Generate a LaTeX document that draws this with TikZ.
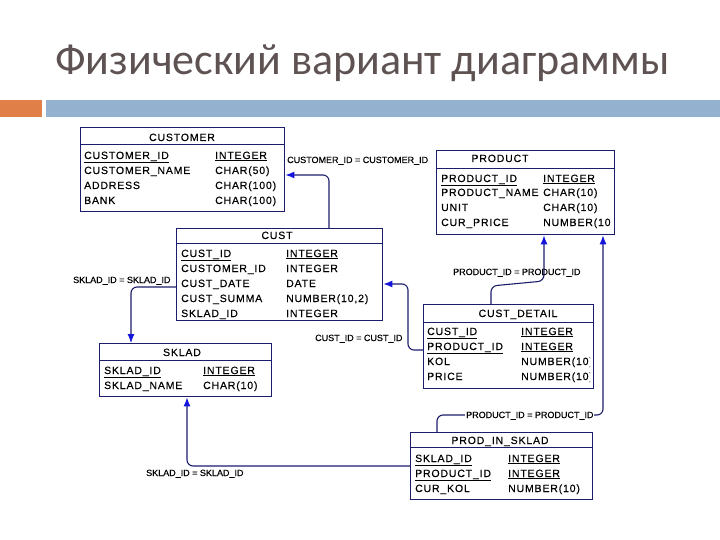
\documentclass[tikz,border=0pt]{standalone}
\usepackage{fontspec}
\setmainfont{Liberation Sans}
\newfontfamily\titlefont{Carlito}
\newfontfamily\tblfont[LetterSpace=8,FakeBold=0.3]{Liberation Sans}
\newfontfamily\lblfont[FakeBold=0.3]{Liberation Sans}
\usetikzlibrary{arrows.meta}
\definecolor{navy}{RGB}{28,28,110}
\definecolor{arrowblue}{RGB}{20,20,220}
\definecolor{titlec}{RGB}{94,82,82}
\definecolor{orangebar}{RGB}{224,127,72}
\definecolor{bluebar}{RGB}{148,178,208}
\tikzset{
  tbl/.style={draw=navy, line width=1.4pt, fill=white, inner sep=0pt, anchor=north west},
  sepline/.style={draw=navy, line width=0.8pt},
  hdr/.style={font=\tblfont\fontsize{10.5}{12}\selectfont, inner sep=0pt, anchor=base},
  cell/.style={font=\tblfont\fontsize{10.5}{12}\selectfont, inner sep=0pt, anchor=base west},
  lbl/.style={font=\lblfont\fontsize{9}{10}\selectfont, inner sep=0pt, anchor=base west},
  fk/.style={draw=navy, line width=1.1pt, rounded corners=6pt, -{Latex[length=9pt,width=7pt,color=arrowblue]}}
}
\newcommand\trow[6]{%
  \node[cell] (#1a) at (#2,#4) {#5};
  \node[cell] (#1b) at (#3,#4) {#6};}
\begin{document}
\begin{tikzpicture}[x=1pt,y=-1pt]
\useasboundingbox (0,0) rectangle (720,540);
\fill[white] (0,0) rectangle (720,540);
\node[font=\titlefont\fontsize{44}{50}\selectfont, text=titlec, anchor=base west, inner sep=0pt] (title) at (55,75) {Физический вариант диаграммы};
\fill[orangebar] (0,100) rectangle (42,117);
\fill[bluebar] (46,100) rectangle (720,117);

% CUSTOMER
\node[tbl, minimum width=204pt, minimum height=84pt] (customer) at (80,127) {};
\draw[sepline] (customer.west |- 0,144) -- (customer.east |- 0,144);
\node[hdr] (customerh) at (182,141) {CUSTOMER};
\trow{cu1}{84}{215}{159}{\underline{CUSTOMER\_ID}}{\underline{INTEGER}}
\trow{cu2}{84}{215}{174}{CUSTOMER\_NAME}{CHAR(50)}
\trow{cu3}{84}{215}{189}{ADDRESS}{CHAR(100)}
\trow{cu4}{84}{215}{204}{BANK}{CHAR(100)}

% PRODUCT
\node[tbl, minimum width=178pt, minimum height=84pt] (product) at (436,150) {};
\draw[sepline] (product.west |- 0,168) -- (product.east |- 0,168);
\node[hdr] (producth) at (500,162) {PRODUCT};
\begin{scope}
\clip (436,150) rectangle (611,234);
\trow{pr1}{441}{543}{182}{\underline{PRODUCT\_ID}}{\underline{INTEGER}}
\trow{pr2}{441}{543}{196}{PRODUCT\_NAME}{CHAR(10)}
\trow{pr3}{441}{543}{211}{UNIT}{CHAR(10)}
\trow{pr4}{441}{543}{226}{CUR\_PRICE}{NUMBER(10)}
\end{scope}

% CUST
\node[tbl, minimum width=206pt, minimum height=92pt] (cust) at (176,228) {};
\draw[sepline] (cust.west |- 0,243) -- (cust.east |- 0,243);
\node[hdr] (custh) at (277,239) {CUST};
\trow{cs1}{181}{286}{257}{\underline{CUST\_ID}}{\underline{INTEGER}}
\trow{cs2}{181}{286}{272}{CUSTOMER\_ID}{INTEGER}
\trow{cs3}{181}{286}{287}{CUST\_DATE}{DATE}
\trow{cs4}{181}{286}{302}{CUST\_SUMMA}{NUMBER(10,2)}
\trow{cs5}{181}{286}{317}{SKLAD\_ID}{INTEGER}

% CUST_DETAIL
\node[tbl, minimum width=170pt, minimum height=84pt] (cd) at (423,304) {};
\draw[sepline] (cd.west |- 0,322) -- (cd.east |- 0,322);
\node[hdr] (cdh) at (518,317) {CUST\_DETAIL};
\begin{scope}
\clip (423,304) rectangle (590,388);
\trow{cd1}{427}{521}{335}{\underline{CUST\_ID}}{\underline{INTEGER}}
\trow{cd2}{427}{521}{350}{\underline{PRODUCT\_ID}}{\underline{INTEGER}}
\trow{cd3}{427}{521}{365}{KOL}{NUMBER(10)}
\trow{cd4}{427}{521}{380}{PRICE}{NUMBER(10)}
\end{scope}

% SKLAD
\node[tbl, minimum width=172pt, minimum height=53pt] (sklad) at (99,343) {};
\draw[sepline] (sklad.west |- 0,360) -- (sklad.east |- 0,360);
\node[hdr] (skladh) at (182,356) {SKLAD};
\trow{sk1}{104}{203}{374}{\underline{SKLAD\_ID}}{\underline{INTEGER}}
\trow{sk2}{104}{203}{389}{SKLAD\_NAME}{CHAR(10)}

% PROD_IN_SKLAD
\node[tbl, minimum width=182pt, minimum height=67pt] (pis) at (410,432) {};
\draw[sepline] (pis.west |- 0,447) -- (pis.east |- 0,447);
\node[hdr] (pish) at (500,444) {PROD\_IN\_SKLAD};
\trow{ps1}{415}{508}{462}{\underline{SKLAD\_ID}}{\underline{INTEGER}}
\trow{ps2}{415}{508}{477}{\underline{PRODUCT\_ID}}{\underline{INTEGER}}
\trow{ps3}{415}{508}{492}{CUR\_KOL}{NUMBER(10)}

% connectors
\draw[fk] (cust.north -| 329,0) |- (customer.east |- 0,175);
\node[lbl] (l1) at (287,163) {CUSTOMER\_ID = CUSTOMER\_ID};

\draw[fk] (cust.west |- 0,287) -| (sklad.north -| 131,0);
\node[lbl] (l2) at (73,283) {SKLAD\_ID = SKLAD\_ID};

\draw[fk] (cd.west |- 0,350) -- (408,350) -- (408,284) -- (cust.east |- 0,284);
\node[lbl] (l3) at (315,341) {CUST\_ID = CUST\_ID};

\draw[fk] (cd.north -| 491,0) -- (491,286) -- (544,281) -- (product.south -| 544,0);
\node[lbl] (l4) at (453,275) {PRODUCT\_ID = PRODUCT\_ID};

\draw[fk] (pis.north -| 437,0) -- (437,415) -- (603,415) -- (product.south -| 603,0);
\node[lbl, fill=white, inner sep=1pt] (l5) at (465,418) {PRODUCT\_ID = PRODUCT\_ID};

\draw[fk] (pis.west |- 0,466) -| (sklad.south -| 187,0);
\node[lbl] (l6) at (146,476) {SKLAD\_ID = SKLAD\_ID};
\end{tikzpicture}
\end{document}
